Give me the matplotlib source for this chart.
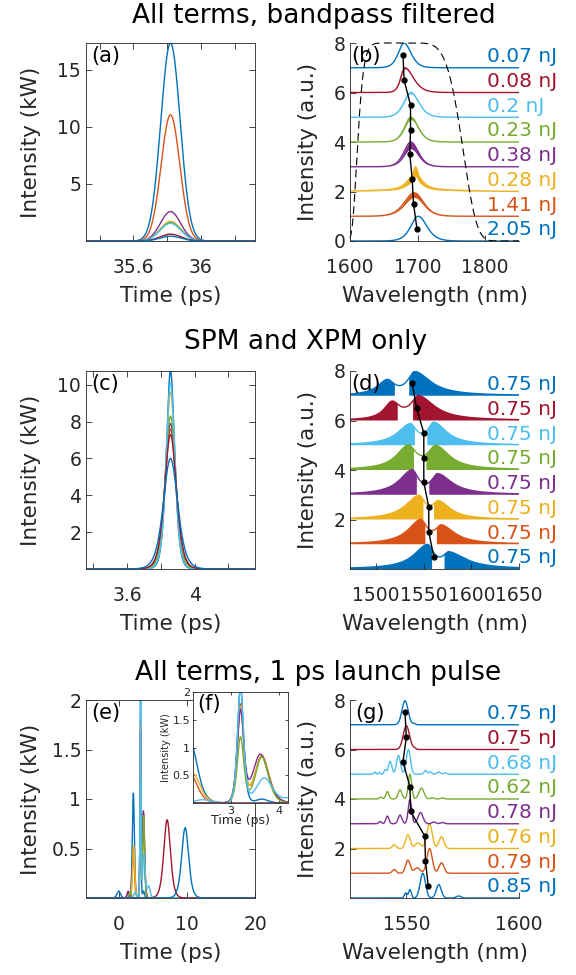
import numpy as np
import matplotlib.pyplot as plt
from matplotlib.transforms import blended_transform_factory

plt.rcParams['font.family'] = ['DejaVu Sans']

GREY = '#262626'
colors = ['#0072BD', '#D95319', '#EDB120', '#7E2F8E',
          '#77AC30', '#4DBEEE', '#A2142F', '#0072BD']
offsets = np.arange(8)

# (a) all terms, bandpass filtered - temporal profiles (kW)
a_centre = 35.82
a_peak = [17.35, 11.05, 1.72, 2.58, 1.62, 1.55, 0.6, 0.42]
a_fwhm = [0.135, 0.13, 0.145, 0.14, 0.145, 0.145, 0.145, 0.145]

# (b) spectra: (centre nm, height, hwhm left, hwhm right) per component
b_energy = ['2.05', '1.41', '0.28', '0.38', '0.23', '0.2', '0.08', '0.07']
b_peaks = [
    [(1701, 1.0, 13, 15)],
    [(1695, 0.95, 17, 16)],
    [(1696, 0.55, 13, 13), (1697, 0.35, 3, 3), (1700, 0.1, 60, 60)],
    [(1690, 1.0, 12, 13)],
    [(1690, 1.0, 11, 13)],
    [(1690, 1.0, 12, 14)],
    [(1681, 1.0, 7, 15)],
    [(1680, 1.0, 10, 12)],
]
b_noise = [0, 0.2, 0.4, 0.28, 0.1, 0.05, 0.04, 0]
b_dot = [1699, 1694, 1692, 1688.5, 1689.5, 1689.5, 1680, 1678.5]
b_filter = (1688.5, 77, 13, 5)   # centre, half width, edge orders left/right

# (c) SPM and XPM only - temporal profiles (kW)
c_centre = 3.857
c_peak = [10.75, 7.6, 9.6, 7.9, 8.3, 10.1, 7.3, 6.0]
c_fwhm = [0.058, 0.078, 0.064, 0.076, 0.072, 0.061, 0.082, 0.1]

# (d) spectra: left lobe / right lobe (centre, height, outer, inner width), fringe gap
d_energy = ['0.75'] * 8
d_left = [(1554, 0.93, 17, 8), (1547, 0.93, 16, 8), (1545, 0.9, 17, 8),
          (1538, 0.95, 16, 8), (1534, 0.92, 15, 10), (1536, 0.8, 16, 8),
          (1517, 0.68, 10, 10), (1512, 0.58, 12.5, 9)]
d_right = [(1577, 0.6, 8, 22), (1569, 0.68, 8, 17), (1566, 0.65, 8, 15),
           (1565, 0.78, 8, 18), (1563, 0.9, 10, 17), (1561, 0.86, 8, 16),
           (1545, 0.93, 10, 20), (1541, 0.93, 9, 20)]
d_gap = [(1559, 1572), (1552, 1564), (1550, 1561), (1543, 1556),
         (1540, 1553), (1541, 1554), (1523, 1539), (1520, 1535)]
d_dot = [1560.7, 1555.5, 1555.5, 1550.3, 1550.3, 1550.3, 1542.7, 1538.2]

# (e)/(f) 1 ps launch pulse - temporal peaks (time ps, kW, fwhm ps)
e_peaks = [
    [(0.0, 0.07, 0.6), (2.15, 1.06, 0.35), (3.2, 2.1, 0.15), (3.65, 0.07, 0.3)],
    [(1.4, 0.05, 0.4), (2.15, 0.5, 0.35), (3.2, 1.75, 0.16), (3.65, 0.85, 0.35)],
    [(2.2, 0.53, 0.35), (3.2, 1.7, 0.16), (3.65, 0.83, 0.36)],
    [(1.4, 0.07, 0.4), (3.2, 1.62, 0.16), (3.62, 0.88, 0.38)],
    [(1.7, 0.06, 0.4), (3.2, 1.17, 0.16), (3.65, 0.83, 0.32)],
    [(2.4, 0.06, 0.4), (3.2, 2.05, 0.15), (3.7, 0.45, 0.4), (4.4, 0.12, 0.5)],
    [(7.1, 0.79, 1.15)],
    [(9.75, 0.71, 1.2)],
]

# (g) spectra (nm, height, fwhm nm)
g_energy = ['0.85', '0.79', '0.76', '0.78', '0.62', '0.68', '0.75', '0.75']
g_peaks = [
    [(1557.3, 1.0, 2.8), (1564.4, 0.54, 2.6), (1551.6, 0.34, 1.4),
     (1549.7, 0.2, 1.4), (1573.2, 0.08, 2.5)],
    [(1560.3, 1.0, 2.8), (1550.7, 0.53, 2.4), (1565.6, 0.42, 2.6),
     (1544.6, 0.15, 2.0), (1554.8, 0.22, 3.0)],
    [(1560.3, 1.0, 2.8), (1550.7, 0.56, 2.4), (1565.6, 0.48, 2.6),
     (1544.6, 0.15, 2.0), (1555.2, 0.22, 3.0)],
    [(1551.6, 0.98, 1.8), (1556.3, 0.45, 2.6), (1547.2, 0.35, 2.0),
     (1541.6, 0.31, 1.6), (1538.4, 0.09, 1.5), (1562.2, 0.07, 2.0), (1566, 0.05, 2.0)],
    [(1551.6, 1.0, 1.8), (1556.7, 0.44, 2.6), (1547.2, 0.37, 2.0),
     (1541.6, 0.3, 1.6), (1538.7, 0.07, 1.5), (1561.5, 0.05, 2.0), (1566, 0.04, 2.0)],
    [(1550.9, 1.0, 2.2), (1546.5, 0.76, 2.0), (1542.8, 0.52, 1.8), (1540.6, 0.18, 1.2),
     (1538, 0.07, 1.0), (1536, 0.09, 1.0), (1558.5, 0.15, 1.6), (1560.7, 0.1, 1.4),
     (1564.4, 0.09, 2.0), (1567.3, 0.06, 1.5)],
    [(1550.0, 0.96, 3.3), (1553.6, 0.05, 1.5)],
    [(1549.4, 0.97, 3.2), (1553.4, 0.05, 1.5)],
]
g_dot = [1559.7, 1558.5, 1558.2, 1551.9, 1551.6, 1548.5, 1550.0, 1549.4]


def sech2(x, c, h, fwhm):
    u = np.clip((x - c) / (fwhm / 1.7627), -40, 40)
    return h / np.cosh(u) ** 2


def gauss(x, c, h, fwhm):
    return h * np.exp(-4 * np.log(2) * ((x - c) / fwhm) ** 2)


def skew_sech2(x, c, h, wl, wr):
    w = np.where(x < c, wl, wr) / 0.8814
    u = np.clip((x - c) / w, -40, 40)
    return h / np.cosh(u) ** 2


def skew_lorentz(x, c, h, gl, gr):
    g = np.where(x < c, gl, gr)
    return h / (1 + ((x - c) / g) ** 2)


TICK_FS = 13.5
LABEL_FS = 15.5
NJ_FS = 14.5

fig = plt.figure(figsize=(5.76, 9.75), dpi=100)

col_x = [86 / 576, 350 / 576]
col_w = 169 / 576
row_y = [1 - 241 / 975, 1 - 569 / 975, 1 - 898 / 975]
row_h = 198 / 975


def time_axes(r):
    ax = fig.add_axes([col_x[0], row_y[r], col_w, row_h])
    ax.tick_params(direction='in', top=True, right=True, length=4, width=0.6,
                   colors=GREY, labelsize=TICK_FS)
    ax.tick_params(axis='x', pad=12)
    for s in ax.spines.values():
        s.set_color(GREY)
        s.set_linewidth(0.6)
    ax.set_xlabel('Time (ps)', fontsize=LABEL_FS, color=GREY)
    ax.set_ylabel('Intensity (kW)', fontsize=LABEL_FS, color=GREY)
    ax.xaxis.set_label_coords(0.5, -0.225)
    ax.yaxis.set_label_coords(-0.265, 0.5)
    return ax


def spec_axes(r):
    ax = fig.add_axes([col_x[1], row_y[r], col_w, row_h])
    ax.spines['top'].set_visible(False)
    ax.spines['right'].set_visible(False)
    for s in ['left', 'bottom']:
        ax.spines[s].set_color(GREY)
        ax.spines[s].set_linewidth(0.6)
    ax.tick_params(direction='in', length=4, width=0.6, colors=GREY, labelsize=TICK_FS)
    ax.tick_params(axis='x', pad=12)
    ax.set_xlabel('Wavelength (nm)', fontsize=LABEL_FS, color=GREY)
    ax.set_ylabel('Intensity (a.u.)', fontsize=LABEL_FS, color=GREY)
    ax.xaxis.set_label_coords(0.5, -0.225)
    ax.yaxis.set_label_coords(-0.19, 0.5)
    ax.set_ylim(0, 8)
    return ax


def energy_labels(ax, energies):
    tr = blended_transform_factory(ax.transAxes, ax.transData)
    for i, e in enumerate(energies):
        ax.text(0.81, offsets[i] + 0.45, e + ' nJ', transform=tr, color=colors[i],
                fontsize=NJ_FS, va='center', ha='left', clip_on=False, zorder=6)


def panel_tag(ax, s, x=0.03):
    ax.text(x, 0.985, s, transform=ax.transAxes, fontsize=15, va='top', ha='left',
            color='k', zorder=7)


# ---------- (a)
ax = time_axes(0)
t = np.linspace(a_centre - 0.5, a_centre + 0.5, 1500)
for i in range(8):
    ax.plot(t, gauss(t, a_centre, a_peak[i], a_fwhm[i]), color=colors[i], lw=1)
ax.set_xlim(t[0], t[-1])
ax.set_ylim(0, max(a_peak))
ax.set_xticks([35.4, 35.6, 35.8, 36.0, 36.2])
ax.set_xticklabels(['', '35.6', '', '36', ''])
ax.set_yticks([5, 10, 15])
panel_tag(ax, '(a)')

# ---------- (b)
ax = spec_axes(0)
wl = np.linspace(1600, 1850, 2500)
for i in range(8):
    p = sum(skew_sech2(wl, *pk) for pk in b_peaks[i])
    if b_noise[i] > 0:
        ax.fill_between(wl, offsets[i] + p * (1 - b_noise[i]), offsets[i] + p,
                        color=colors[i], lw=0)
    ax.plot(wl, offsets[i] + p, color=colors[i], lw=1)
fc, fhw, nl, nr = b_filter
order = np.where(wl < fc, nl, nr)
filt = 8 * np.exp(-np.log(2) * (np.abs(wl - fc) / fhw) ** order)
ax.plot(wl, filt, color='k', lw=0.8, dashes=(7, 4), clip_on=False)
ax.plot(b_dot, offsets + 0.5, '-o', color='k', ms=3.5, lw=1, zorder=5)
ax.set_xlim(1600, 1850)
ax.set_xticks([1600, 1700, 1800])
ax.set_yticks([0, 2, 4, 6, 8])
energy_labels(ax, b_energy)
panel_tag(ax, '(b)', 0.01)

# ---------- (c)
ax = time_axes(1)
t = np.linspace(c_centre - 0.5, c_centre + 0.5, 2000)
for i in range(8):
    ax.plot(t, sech2(t, c_centre, c_peak[i], c_fwhm[i]), color=colors[i], lw=1)
ax.set_xlim(t[0], t[-1])
ax.set_ylim(0, max(c_peak))
ax.set_xticks([3.4, 3.6, 3.8, 4.0, 4.2])
ax.set_xticklabels(['', '3.6', '', '4', ''])
ax.set_yticks([2, 4, 6, 8, 10])
panel_tag(ax, '(c)')

# ---------- (d)
ax = spec_axes(1)
wl = np.linspace(1473, 1650, 3000)
for i in range(8):
    env = skew_lorentz(wl, *d_left[i]) + skew_lorentz(wl, *d_right[i])
    fringe = (wl < d_gap[i][0]) | (wl > d_gap[i][1])
    ax.fill_between(wl, offsets[i], offsets[i] + env, where=fringe,
                    color=colors[i], lw=0)
    ax.plot(wl, offsets[i] + env, color=colors[i], lw=1)
ax.plot(d_dot, offsets + 0.5, '-o', color='k', ms=3.5, lw=1, zorder=5)
ax.set_xlim(1473, 1650)
ax.set_xticks([1500, 1550, 1600, 1650])
ax.set_yticks([2, 4, 6, 8])
energy_labels(ax, d_energy)
panel_tag(ax, '(d)', 0.01)

# ---------- (e)
ax = time_axes(2)
t = np.linspace(-4.8, 20, 8000)
e_curves = [sum(sech2(t, *pk) for pk in e_peaks[i]) for i in range(8)]
for i in range(8):
    ax.plot(t, e_curves[i], color=colors[i], lw=1)
ax.set_xlim(-4.8, 20)
ax.set_ylim(0, 2.0)
ax.set_xticks([0, 10, 20])
ax.set_yticks([0.5, 1, 1.5, 2])
ax.set_yticklabels(['0.5', '1', '1.5', '2'])
panel_tag(ax, '(e)')

# ---------- (f) inset
axi = fig.add_axes([193 / 576, 1 - 803 / 975, 95 / 576, 111 / 975])
for i in range(8):
    axi.plot(t, e_curves[i], color=colors[i], lw=1)
axi.set_xlim(2.2, 4.2)
axi.set_ylim(0, 2.0)
axi.set_xticks([3, 4])
axi.set_yticks([0.5, 1, 1.5, 2])
axi.set_yticklabels(['0.5', '1', '1.5', '2'])
axi.tick_params(direction='in', top=True, right=True, length=2.5, width=0.6,
                colors=GREY, labelsize=8, pad=2)
for s in axi.spines.values():
    s.set_color(GREY)
    s.set_linewidth(0.6)
axi.set_xlabel('Time (ps)', fontsize=9, color=GREY, labelpad=-1)
axi.set_ylabel('Intensity (kW)', fontsize=7, color=GREY, labelpad=1)
panel_tag(axi, '(f)', 0.04)

# ---------- (g)
ax = spec_axes(2)
wl = np.linspace(1525, 1600, 2000)
for i in range(8):
    p = sum(gauss(wl, *pk) for pk in g_peaks[i])
    ax.plot(wl, offsets[i] + p, color=colors[i], lw=1)
ax.plot(g_dot, offsets + 0.5, '-o', color='k', ms=3.5, lw=1, zorder=5)
ax.set_xlim(1525, 1600)
ax.set_xticks([1550, 1600])
ax.set_yticks([2, 4, 6, 8])
energy_labels(ax, g_energy)
panel_tag(ax, '(g)', 0.03)

# ---------- row titles
fig.text(0.544, 1 - 16 / 975, 'All terms, bandpass filtered', fontsize=19,
         ha='center', va='center')
fig.text(0.53, 1 - 342 / 975, 'SPM and XPM only', fontsize=19,
         ha='center', va='center')
fig.text(0.552, 1 - 673 / 975, 'All terms, 1 ps launch pulse', fontsize=19,
         ha='center', va='center')

fig.savefig('out.png', dpi=100)
